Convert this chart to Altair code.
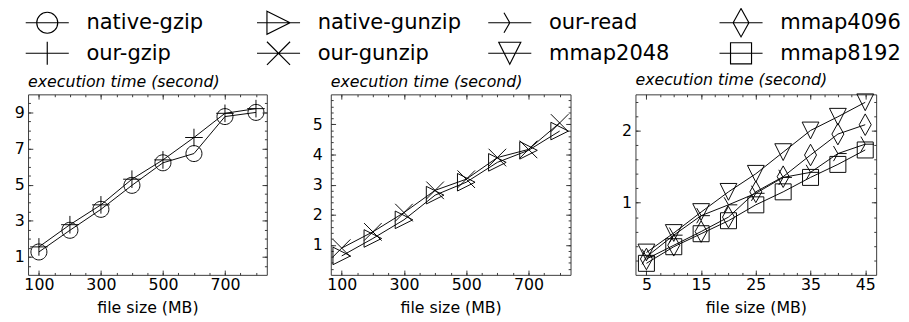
import altair as alt
import pandas as pd

# ---------------- data ----------------
SERIES = ["native-gzip", "our-gzip", "native-gunzip", "our-gunzip",
          "our-read", "mmap2048", "mmap4096", "mmap8192"]

sizes_big = [100, 200, 300, 400, 500, 600, 700, 800]
native_gzip = [1.27, 2.47, 3.63, 4.96, 6.21, 6.72, 8.77, 9.00]
our_gzip = [1.55, 2.78, 3.88, 5.30, 6.37, 7.61, 8.95, 9.21]
native_gunzip = [0.63, 1.21, 1.83, 2.65, 3.08, 3.74, 4.14, 4.78]
our_gunzip = [0.89, 1.43, 2.07, 2.81, 3.18, 3.90, 4.17, 5.05]

sizes_small = [5, 10, 15, 20, 25, 30, 35, 40, 45]
our_read = [0.25, 0.55, 0.82, 0.97, 1.13, 1.35, 1.42, 1.68, 1.81]
mmap2048 = [0.31, 0.58, 0.87, 1.15, 1.40, 1.70, 2.00, 2.19, 2.39]
mmap4096 = [0.22, 0.41, 0.60, 0.80, 1.15, 1.36, 1.66, 1.95, 2.08]
mmap8192 = [0.16, 0.39, 0.57, 0.75, 0.97, 1.15, 1.35, 1.53, 1.73]

p1_xticks = [100, 300, 500, 700]
p1_yticks = [1, 3, 5, 7, 9]
p2_xticks = [100, 300, 500, 700]
p2_yticks = [1, 2, 3, 4, 5]
p3_xticks = [5, 15, 25, 35, 45]
p3_yticks = [1, 2]

X_TITLE = "file size (MB)"
Y_TITLE = "execution time (second)"

# ---------------- style ----------------
FONT = "DejaVu Sans"
FRAME = "#333333"

PLOT_PATHS = {
    "native-gzip": "M1,0A1,1,0,1,1,-1,0A1,1,0,1,1,1,0Z",
    "our-gzip": "M-1.1,0L1.1,0M0,-1.1L0,1.1",
    "native-gunzip": "M-1.1,-1.1L1.1,0L-1.1,1.1Z",
    "our-gunzip": "M-1.1,-1.1L1.1,1.1M-1.1,1.1L1.1,-1.1",
    "our-read": "M0,0L1.1,0M0,0L-0.55,-0.95M0,0L-0.55,0.95",
    "mmap2048": "M-1.05,-1.05L1.05,-1.05L0,1.05Z",
    "mmap4096": "M0,-1.35L0.75,0L0,1.35L-0.75,0Z",
    "mmap8192": "M-1,-1L1,-1L1,1L-1,1Z",
}
LEG_LINE = "M-2.05,0L2.05,0"
plot_range = [PLOT_PATHS[s] for s in SERIES]
leg_range = [PLOT_PATHS[s] + LEG_LINE for s in SERIES]


def long_df(xs, cols):
    rows = []
    for name, vals in cols.items():
        for x, v in zip(xs, vals):
            rows.append({"size": x, "time": v, "series": name})
    return pd.DataFrame(rows)


def steps(lo, hi, step):
    out = []
    k = 0
    while True:
        v = round(lo + k * step, 6)
        if v > hi + 1e-9:
            break
        out.append(v)
        k += 1
    return out


def axis(orient, values, size, labels, pad=2, title=None, min_extent=None):
    props = dict(orient=orient, values=values, tickSize=size, offset=-size,
                 labels=labels, domain=False, grid=False, tickColor=FRAME,
                 tickWidth=1, title=title)
    if labels:
        props.update(labelPadding=pad, labelFontSize=16.5, labelFont=FONT,
                     labelColor="black", labelFlush=False)
    if title:
        props.update(titleFontSize=16.5, titleFont=FONT, titleFontWeight="normal",
                     titlePadding=8, titleColor="black")
    if min_extent is not None:
        props.update(minExtent=min_extent)
    return alt.Axis(**props)


def panel(df, xdom, ydom, xmaj, xmin, ymaj, ymin, ypad, w, h, min_extent=None):
    xs = alt.Scale(domain=xdom, nice=False, zero=False)
    ys = alt.Scale(domain=ydom, nice=False, zero=False)
    base = alt.Chart(df)
    lines = base.mark_line(color="black", strokeWidth=1).encode(
        x=alt.X("size:Q", scale=xs, axis=axis("bottom", xmaj, 5, True, 2, X_TITLE)),
        y=alt.Y("time:Q", scale=ys, axis=axis("left", ymaj, 5, True, ypad,
                                               min_extent=min_extent)),
        detail="series:N",
    )
    pts = base.mark_point(filled=False, color="black", strokeWidth=1,
                          size=280, opacity=1).encode(
        x=alt.X("size:Q", scale=xs, axis=axis("bottom", xmin, 2.5, False)),
        y=alt.Y("time:Q", scale=ys, axis=axis("left", ymin, 2.5, False)),
        shape=alt.Shape("series:N", scale=alt.Scale(domain=SERIES, range=plot_range),
                        legend=None),
    )
    g1 = base.mark_point(opacity=0).encode(
        x=alt.X("size:Q", scale=xs, axis=axis("top", xmaj, 5, False)),
        y=alt.Y("time:Q", scale=ys, axis=axis("right", ymaj, 5, False)),
    )
    g2 = base.mark_point(opacity=0).encode(
        x=alt.X("size:Q", scale=xs, axis=axis("top", xmin, 2.5, False)),
        y=alt.Y("time:Q", scale=ys, axis=axis("right", ymin, 2.5, False)),
    )
    return alt.layer(lines, pts, g1, g2).resolve_axis(
        x="independent", y="independent"
    ).properties(
        width=w, height=h,
        title=alt.TitleParams(Y_TITLE, anchor="start", frame="group",
                              fontStyle="italic", fontWeight="normal",
                              fontSize=16.5, font=FONT, offset=4, color="black"),
    )


df1 = long_df(sizes_big, {"native-gzip": native_gzip, "our-gzip": our_gzip})
df2 = long_df(sizes_big, {"native-gunzip": native_gunzip, "our-gunzip": our_gunzip})
df3 = long_df(sizes_small, {"our-read": our_read, "mmap2048": mmap2048,
                            "mmap4096": mmap4096, "mmap8192": mmap8192})

p1 = panel(df1, [65, 835], [0, 10], p1_xticks, steps(100, 800, 50),
           p1_yticks, steps(0.5, 9.5, 0.5), 4, 250, 189, min_extent=31)
p2 = panel(df2, [65, 835], [0, 6], p2_xticks, steps(100, 800, 50),
           p2_yticks, steps(0.2, 5.8, 0.2), 9, 251, 189)
p3 = panel(df3, [3, 47], [0, 2.5], p3_xticks, steps(5, 45, 2.5),
           p3_yticks, steps(0.2, 2.4, 0.2), 4, 252, 189, min_extent=25)

# ---------------- legend ----------------
leg_df = pd.DataFrame({
    "series": SERIES,
    "col": [i // 2 for i in range(len(SERIES))],
    "row": [i % 2 for i in range(len(SERIES))],
})
lx = alt.X("col:Q", scale=alt.Scale(domain=[-0.083, 3.605], nice=False, zero=False), axis=None)
ly = alt.Y("row:Q", scale=alt.Scale(domain=[-0.34375, 1.34375], nice=False, zero=False,
                                    reverse=True), axis=None)
leg_sym = alt.Chart(leg_df).mark_point(filled=False, color="black", strokeWidth=1.2,
                                       size=484, opacity=1).encode(
    x=lx, y=ly,
    shape=alt.Shape("series:N", scale=alt.Scale(domain=SERIES, range=leg_range), legend=None),
)
leg_txt = alt.Chart(leg_df).mark_text(align="left", baseline="middle", dx=41,
                                      fontSize=22, font=FONT, color="black").encode(
    x=lx, y=ly, text="series:N"
)
legend = alt.layer(leg_sym, leg_txt).properties(
    width=893, height=54, view=alt.ViewBackground(strokeWidth=0)
)

chart = alt.vconcat(
    legend,
    alt.hconcat(p1, p2, p3, spacing=46),
    spacing=4,
).resolve_scale(shape="independent").properties(
    padding={"left": -6, "top": -10, "right": 0, "bottom": 0}
).configure(font=FONT).configure_view(stroke=FRAME, strokeWidth=1)

chart.save("out.html", embed_options={"renderer": "svg", "actions": False})
